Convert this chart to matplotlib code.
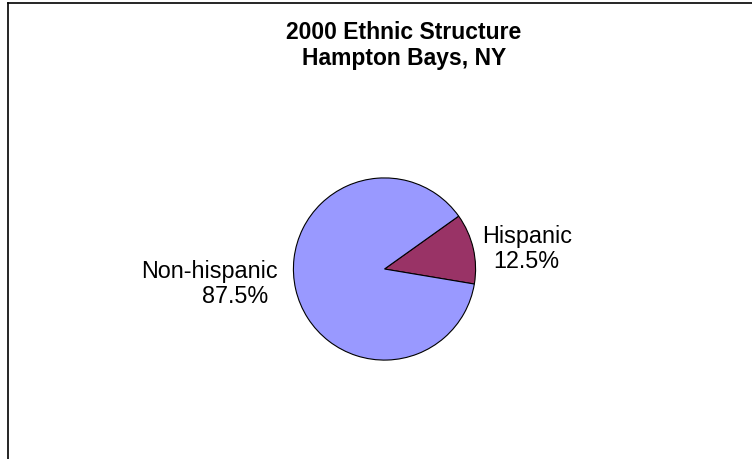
import matplotlib.pyplot as plt
from matplotlib.lines import Line2D

# 数据
labels = ["Hispanic", "Non-hispanic"]
shares = [12.5, 87.5]
colors = ["#993366", "#9999FF"]
title_lines = ["2000 Ethnic Structure", "Hampton Bays, NY"]

plt.rcParams['font.family'] = ['Liberation Sans', 'DejaVu Sans']

W, H = 752, 460
fig = plt.figure(figsize=(W / 100, H / 100), dpi=100)
fig.patch.set_facecolor("white")

# 饼图位置（像素）
cx, cy, r = 384.5, 270, 92
ax = fig.add_axes([(cx - r) / W, (H - cy - r) / H, 2 * r / W, 2 * r / H])
ax.pie(shares, colors=colors, startangle=35.5, counterclock=False,
       wedgeprops=dict(edgecolor="black", linewidth=0.8))
ax.set_xlim(-1.01, 1.01)
ax.set_ylim(-1.01, 1.01)
ax.set_aspect("equal")
ax.axis("off")

# 标题（逐行放置）
for line, base in zip(title_lines, [39, 65]):
    fig.text(404 / W, 1 - base / H, line, ha="center", va="baseline",
             fontsize=16.5, fontweight="bold")

# 标签
fs = 16.8
fig.text(209 / W, 1 - 278 / H, labels[1], ha="center", va="baseline", fontsize=fs)
fig.text(235 / W, 1 - 303 / H, f"{shares[1]}%", ha="center", va="baseline", fontsize=fs)
fig.text(527 / W, 1 - 243 / H, labels[0], ha="center", va="baseline", fontsize=fs)
fig.text(526 / W, 1 - 268 / H, f"{shares[0]}%", ha="center", va="baseline", fontsize=fs)

# 边框
fig.add_artist(Line2D([7.5 / W, 7.5 / W], [0, 1 - 3.5 / H], color="black", linewidth=1.2))
fig.add_artist(Line2D([7.5 / W, 1], [1 - 3.5 / H, 1 - 3.5 / H], color="black", linewidth=1.2))

fig.savefig("out.png", dpi=100)
